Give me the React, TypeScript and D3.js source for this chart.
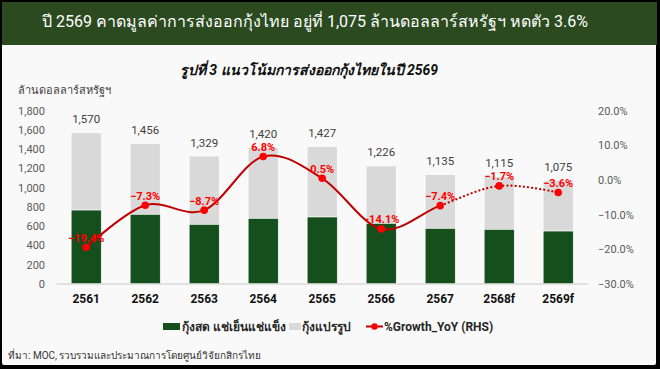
import React from 'react';
import * as d3 from 'd3';

// Chart values
const years = ['2561', '2562', '2563', '2564', '2565', '2566', '2567', '2568f', '2569f'];
const totalValues = [1570, 1456, 1329, 1420, 1427, 1226, 1135, 1115, 1075];
const freshValues = [768, 724, 620, 682, 696, 630, 578, 568, 550];
const growthValues = [-19.4, -7.3, -8.7, 6.8, 0.5, -14.1, -7.4, -1.7, -3.6];
const leftTicks = [0, 200, 400, 600, 800, 1000, 1200, 1400, 1600, 1800];
const rightTicks = [-30, -20, -10, 0, 10, 20];
const forecastFrom = 6; // index where the dotted (forecast) line starts

const W = 660;
const H = 369;
const FONT = "Roboto, 'Noto Sans', 'DejaVu Sans', sans-serif";

const App = () => {
  const x = d3.scaleBand<string>()
    .domain(years)
    .range([56.7, 587.7])
    .paddingInner(0.49)
    .paddingOuter(0.245);
  const yLeft = d3.scaleLinear().domain([0, 1800]).range([284, 110.7]);
  const yRight = d3.scaleLinear().domain([-30, 20]).range([284, 110.7]);
  const cx = (i: number) => (x(years[i]) as number) + x.bandwidth() / 2;

  const points: [number, number][] = growthValues.map((g, i) => [cx(i), yRight(g)]);
  const linePath = d3.line().curve(d3.curveCardinal.tension(0))(points) || '';
  const splitX = cx(forecastFrom);

  return (
    <svg
      width={W}
      height={H}
      style={{ position: 'absolute', left: 0, top: 0, fontFamily: FONT }}
    >
      <defs>
        <clipPath id="solidPart">
          <rect x={0} y={0} width={splitX} height={H} />
        </clipPath>
        <clipPath id="dottedPart">
          <rect x={splitX} y={0} width={W - splitX} height={H} />
        </clipPath>
      </defs>

      {/* frame with shadow */}
      <rect x={0} y={0} width={W} height={H} fill="#000" />
      <rect x={2} y={2} width={654} height={363} fill="#f9f9f9" rx={2} />

      {/* header band */}
      <rect x={2} y={2} width={655} height={43} fill="#2b4a1f" />
      <text x={315} y={27} fill="#fff" fontSize={16} textAnchor="middle">
        ปี 2569 คาดมูลค่าการส่งออกกุ้งไทย อยู่ที่ 1,075 ล้านดอลลาร์สหรัฐฯ หดตัว 3.6%
      </text>

      {/* chart title */}
      <text x={309} y={75} fill="#111" fontSize={14} fontWeight="bold" fontStyle="italic" textAnchor="middle">
        รูปที่ 3 แนวโน้มการส่งออกกุ้งไทยในปี 2569
      </text>

      {/* unit label */}
      <text x={18} y={94} fill="#404040" fontSize={11}>ล้านดอลลาร์สหรัฐฯ</text>

      {/* left axis ticks */}
      {leftTicks.map(t => (
        <text key={t} x={45} y={yLeft(t) + 4} fill="#595959" fontSize={11} textAnchor="end">
          {d3.format(',')(t)}
        </text>
      ))}

      {/* right axis ticks */}
      {rightTicks.map(t => (
        <text key={t} x={598} y={yRight(t) + 4} fill="#595959" fontSize={11}>
          {d3.format('.1f')(t) + '%'}
        </text>
      ))}

      {/* bars */}
      {years.map((yr, i) => (
        <g key={yr}>
          <rect
            x={x(yr)}
            y={yLeft(totalValues[i])}
            width={x.bandwidth()}
            height={yLeft(freshValues[i]) - yLeft(totalValues[i])}
            fill="#d9d9d9"
            stroke="#fff"
            strokeWidth={0.6}
          />
          <rect
            x={x(yr)}
            y={yLeft(freshValues[i])}
            width={x.bandwidth()}
            height={yLeft(0) - yLeft(freshValues[i])}
            fill="#154f1d"
            stroke="#fff"
            strokeWidth={0.6}
          />
          <text
            x={cx(i)}
            y={yLeft(totalValues[i]) - 9.5}
            fill="#404040"
            fontSize={11.5}
            textAnchor="middle"
          >
            {d3.format(',')(totalValues[i])}
          </text>
          <text x={cx(i)} y={303} fill="#111" fontSize={12} fontWeight="bold" textAnchor="middle">
            {yr}
          </text>
        </g>
      ))}

      {/* baseline */}
      <line x1={56.7} x2={587.7} y1={284} y2={284} stroke="#d9d9d9" strokeWidth={1.5} />

      {/* growth line */}
      <path d={linePath} fill="none" stroke="#c00000" strokeWidth={2} clipPath="url(#solidPart)" />
      <path
        d={linePath}
        fill="none"
        stroke="#c00000"
        strokeWidth={2.2}
        strokeDasharray="0.1 4"
        strokeLinecap="round"
        clipPath="url(#dottedPart)"
      />
      {points.map(([px, py], i) => (
        <g key={i}>
          <circle cx={px} cy={py} r={3.8} fill="#ff0000" />
          <text
            x={px}
            y={py - 5.5}
            fill="#ff0000"
            fontSize={11}
            fontWeight="bold"
            textAnchor="middle"
          >
            {d3.format('.1f')(growthValues[i]) + '%'}
          </text>
        </g>
      ))}

      {/* legend */}
      <g fontSize={12} fontWeight="bold" fill="#262626">
        <rect x={163} y={323} width={17} height={7} fill="#154f1d" />
        <text x={182} y={331}>กุ้งสด แช่เย็นแช่แข็ง</text>
        <rect x={289} y={323} width={12} height={7} fill="#d9d9d9" />
        <text x={302} y={331}>กุ้งแปรรูป</text>
        <line x1={366} x2={383} y1={326.5} y2={326.5} stroke="#c00000" strokeWidth={2} />
        <circle cx={374.5} cy={326.5} r={3.2} fill="#ff0000" />
        <text x={384} y={331}>%Growth_YoY (RHS)</text>
      </g>

      {/* source */}
      <text x={8} y={359} fill="#333" fontSize={10}>
        ที่มา: MOC, รวบรวมและประมาณการโดยศูนย์วิจัยกสิกรไทย
      </text>
    </svg>
  );
};

export default App;
